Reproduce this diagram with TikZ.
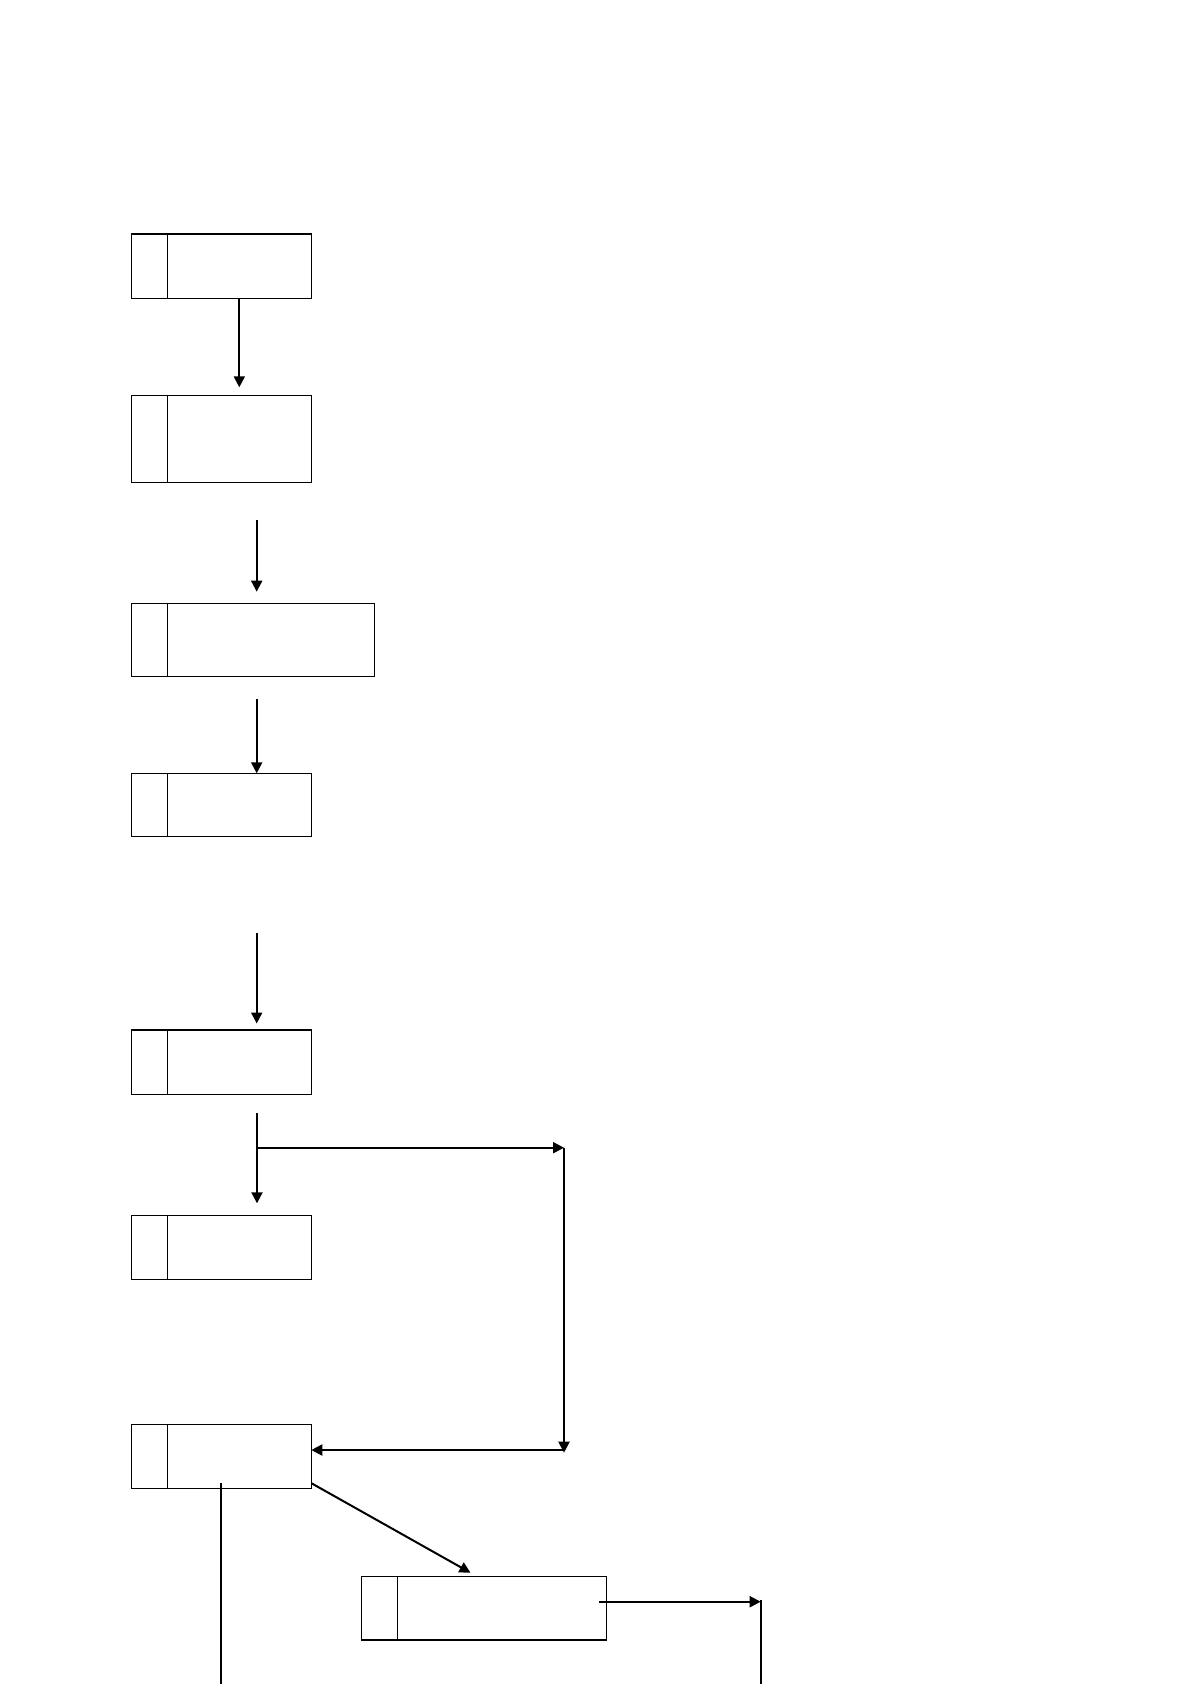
\documentclass[tikz,border=0pt]{standalone}
\usetikzlibrary{arrows.meta}
\begin{document}
\begin{tikzpicture}[x=1pt,y=-1pt,
  boxnode/.style={draw=black,line width=1.2pt,rectangle,anchor=north west,inner sep=0pt,outer sep=0pt},
  conn/.style={draw=black,line width=2pt},
  arr/.style={conn,-{Triangle[length=11pt,width=11pt]}}]
\useasboundingbox[fill=white] (0,0) rectangle (1191,1684);
% boxes
\node[boxnode,minimum width=180pt,minimum height=64.3pt] (b1) at (131.3,234) {};
\node[boxnode,minimum width=180pt,minimum height=87pt] (b2) at (131.3,395.3) {};
\node[boxnode,minimum width=243.5pt,minimum height=73pt] (b3) at (131.3,603.6) {};
\node[boxnode,minimum width=180pt,minimum height=63.3pt] (b4) at (131.3,773.3) {};
\node[boxnode,minimum width=180pt,minimum height=64.4pt] (b5) at (131.3,1030) {};
\node[boxnode,minimum width=180pt,minimum height=63.6pt] (b6) at (131.3,1215.7) {};
\node[boxnode,minimum width=180pt,minimum height=64pt] (b7) at (131.3,1424.3) {};
\node[boxnode,minimum width=244.7pt,minimum height=63.7pt] (b8) at (361.6,1576.3) {};
% dividers
\foreach \b in {b1,b2,b3,b4,b5,b6,b7,b8}
  \draw[line width=1.2pt] ([xshift=36pt]\b.north west) -- ([xshift=36pt]\b.south west);
% free connector ends
\coordinate (a2s) at (256.7,519.8);
\coordinate (a3s) at (256.7,699);
\coordinate (a4s) at (256.7,933);
\coordinate (a5s) at (257,1113.3);
\coordinate (br) at (257,1147.7);
\coordinate (rt) at (564,1147.7);
\coordinate (rb) at (564,1452.7);
\coordinate (rl) at (564,1450);
\coordinate (d1) at (311.6,1483.3);
\coordinate (d2) at (470.5,1572.7);
\coordinate (a8s) at (599,1601.7);
\coordinate (a8e) at (760.7,1601.7);
\coordinate (a8v) at (760.7,1600);
\coordinate (a8b) at (760.7,1684);
\coordinate (lvs) at (221,1483.3);
\coordinate (lvb) at (221,1684);
% connectors
\draw[arr] (239.3,298.3) -- (239.3,387.3);
\draw[arr] (a2s) -- (256.7,591.7);
\draw[arr] (a3s) -- (b4.north -| a3s);
\draw[arr] (a4s) -- (256.7,1023.5);
\draw[arr] (a5s) -- (257,1203.3);
\draw[arr] (br) -- (rt);
\draw[arr] (rt) -- (rb);
\draw[arr] (rl) -- (b7.east |- rl);
\draw[arr] (d1) -- (d2);
\draw[arr] (a8s) -- (a8e);
\draw[conn] (a8v) -- (a8b);
\draw[conn] (lvs) -- (lvb);
\end{tikzpicture}
\end{document}
